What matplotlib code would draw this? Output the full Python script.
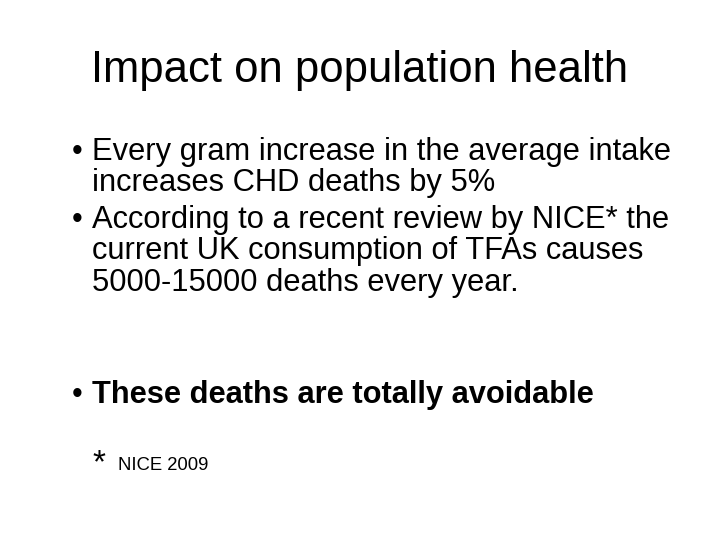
import matplotlib
matplotlib.use("Agg")
import matplotlib.pyplot as plt

title = "Impact on population health"
bullet_lines = [
    ("•", "Every gram increase in the average intake", 160),
    ("", "increases CHD deaths by 5%", 191),
    ("•", "According to a recent review by NICE* the", 228),
    ("", "current UK consumption of TFAs causes", 259),
    ("", "5000-15000 deaths every year.", 291),
]
bold_line = ("•", "These deaths are totally avoidable", 403)
footnote = "NICE 2009"

fig = plt.figure(figsize=(7.2, 5.4), dpi=100)
fig.patch.set_facecolor("white")
H = 540.0
fam = ["Liberation Sans", "DejaVu Sans"]

fig.text(360 / 720, 1 - 82 / H, title, ha="center", va="baseline", fontsize=31.4, family=fam)
for b, t, y in bullet_lines:
    if b:
        fig.text(72 / 720, 1 - y / H, b, ha="left", va="baseline", fontsize=22, family=fam)
    fig.text(92 / 720, 1 - y / H, t, ha="left", va="baseline", fontsize=22.2, family=fam)
b, t, y = bold_line
fig.text(72 / 720, 1 - y / H, b, ha="left", va="baseline", fontsize=22, family=fam)
fig.text(92 / 720, 1 - y / H, t, ha="left", va="baseline", fontsize=22.2, family=fam, weight="bold")
fig.text(92 / 720, 1 - 472 / H, "*", ha="left", va="baseline", fontsize=24, family=fam)
fig.text(118 / 720, 1 - 470 / H, footnote, ha="left", va="baseline", fontsize=13.3, family=fam)

fig.savefig("out.png", dpi=100, facecolor="white")
